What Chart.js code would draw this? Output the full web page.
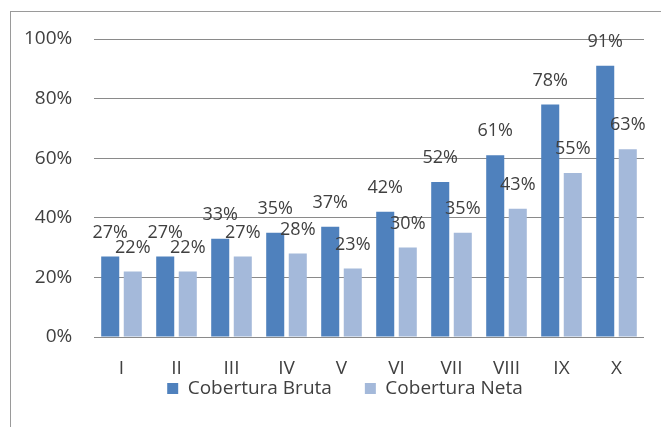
<!DOCTYPE html>
<html>
<head>
<meta charset="utf-8">
<script src="https://cdn.jsdelivr.net/npm/chart.js@4.4.1/dist/chart.umd.min.js"></script>
<style>
	html, body { margin: 0; padding: 0; background: #fff; }
	#wrap { position: relative; width: 661px; height: 427px; overflow: hidden; }
	#frame {
		position: absolute; left: 10px; top: 11px; width: 700px; height: 500px;
		border-left: 1px solid #9a9a9a; border-top: 1px solid #9a9a9a;
	}
	canvas { position: absolute; left: 0; top: 0; }
</style>
</head>
<body>
<div id="wrap">
	<div id="frame"></div>
	<canvas id="chart" width="661" height="427"></canvas>
</div>
<script>
const categories = ['I', 'II', 'III', 'IV', 'V', 'VI', 'VII', 'VIII', 'IX', 'X'];
const bruta = [27, 27, 33, 35, 37, 42, 52, 61, 78, 91];
const neta = [22, 22, 27, 28, 23, 30, 35, 43, 55, 63];
const y_ticks = [0, 20, 40, 60, 80, 100];

const font_family = '"Open Sans", sans-serif';
const text_color = '#404040';

// value labels drawn a little above each bar, like the original
const bar_labels = {
	id: 'bar_labels',
	afterDatasetsDraw(chart) {
		const ctx = chart.ctx;
		ctx.save();
		ctx.font = '18px ' + font_family;
		ctx.fillStyle = text_color;
		ctx.textAlign = 'center';
		ctx.textBaseline = 'middle';
		chart.data.datasets.forEach((ds, i) => {
			chart.getDatasetMeta(i).data.forEach((bar, j) => {
				ctx.fillText(ds.data[j] + '%', bar.x, bar.y - 24);
			});
		});
		ctx.restore();
	}
};

new Chart(document.getElementById('chart'), {
	type: 'bar',
	data: {
		labels: categories,
		datasets: [
			{
				label: 'Cobertura Bruta',
				data: bruta,
				backgroundColor: '#4F81BD',
				categoryPercentage: 0.82,
				barPercentage: 0.8
			},
			{
				label: 'Cobertura Neta',
				data: neta,
				backgroundColor: '#A4B9DA',
				categoryPercentage: 0.82,
				barPercentage: 0.8
			}
		]
	},
	options: {
		responsive: false,
		animation: false,
		devicePixelRatio: 1,
		layout: { padding: { left: 46, right: 17, top: 39, bottom: 19 } },
		plugins: {
			tooltip: { enabled: false },
			legend: {
				position: 'bottom',
				labels: {
					boxWidth: 11,
					boxHeight: 11,
					padding: 33,
					color: text_color,
					font: { family: font_family, size: 19 }
				}
			}
		},
		scales: {
			x: {
				grid: { display: false },
				border: { display: false },
				ticks: {
					color: text_color,
					mirror: true,
					padding: -43,
					font: { family: font_family, size: 19 }
				},
				afterFit(scale) { scale.height = 9; }
			},
			y: {
				min: 0,
				max: 100,
				afterBuildTicks(scale) { scale.ticks = y_ticks.map(v => ({ value: v })); },
				grid: { color: '#8a8a8a', lineWidth: 1, drawTicks: false },
				border: { display: false },
				ticks: {
					color: text_color,
					mirror: true,
					crossAlign: 'far',
					padding: -70,
					font: { family: font_family, size: 19 },
					callback: v => v + '%'
				},
				afterFit(scale) { scale.width = 48; }
			}
		}
	},
	plugins: [bar_labels]
});
</script>
</body>
</html>
